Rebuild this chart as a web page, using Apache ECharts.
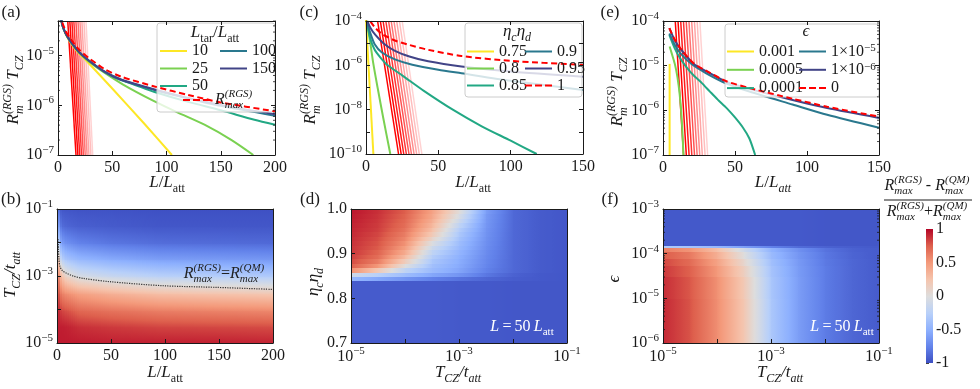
<!DOCTYPE html>
<html>
<head>
<meta charset="utf-8" />
<title>RGS vs QM</title>
<script src="https://cdn.jsdelivr.net/npm/echarts@6/dist/echarts.min.js"></script>
<style>
html, body {margin:0; padding:0; background:#fff;}
#main {width:980px; height:389px;}
</style>
</head>
<body>
<div id="main"></div>
<script>
var SERIF = 'Liberation Serif';
var INK = '#1a1a1a';

// ---- panel (a): x = L/L_att, y = log10(R_m T_CZ), one curve per L_tar/L_att
var aX10 = [2, 4, 7, 10, 15, 20, 27, 50, 80, 105];
var aY10 = [-4.15, -4.38, -4.56, -4.68, -4.84, -4.97, -5.12, -5.66, -6.38, -7.0];
var aX25 = [2, 4, 7, 10, 15, 20, 28, 40, 60, 89, 110, 135, 160, 180];
var aY25 = [-4.15, -4.38, -4.55, -4.67, -4.82, -4.95, -5.11, -5.3, -5.58, -5.92, -6.14, -6.39, -6.7, -7.0];
var aX50 = [2, 4, 7, 10, 15, 20, 28, 43, 58, 75, 89, 120, 150, 181, 200];
var aY50 = [-4.15, -4.38, -4.55, -4.66, -4.81, -4.94, -5.09, -5.32, -5.48, -5.62, -5.73, -5.93, -6.1, -6.29, -6.39];
var aX100 = [2, 4, 7, 10, 15, 20, 28, 43, 58, 89, 120, 150, 200];
var aY100 = [-4.15, -4.38, -4.55, -4.66, -4.81, -4.94, -5.09, -5.33, -5.49, -5.69, -5.86, -6.01, -6.21];
var aY150 = [-4.15, -4.38, -4.55, -4.66, -4.81, -4.94, -5.09, -5.32, -5.48, -5.68, -5.85, -5.99, -6.18];
var aXmax = [4, 7, 10, 15, 20, 28, 43, 58, 89, 120, 150, 200];
var aYmax = [-4.33, -4.5, -4.61, -4.76, -4.89, -5.04, -5.27, -5.42, -5.62, -5.79, -5.94, -6.12];
var aFanTop = [9, 10.9, 12.8, 14.6, 16.5, 18.4, 20.2, 22, 23.9, 25.8];
var aFanBot = [16.6, 18.3, 20, 21.7, 23.4, 25.1, 26.8, 28.5, 30.3, 32];
var aFanY = [-4.3, -7];

// ---- panel (c): one curve per eta_c eta_d
var cX75 = [0, 5.1];
var cY75 = [-3.95, -10];
var cX80 = [0.5, 3, 5, 8, 12, 16.8];
var cY80 = [-4, -5.0, -5.9, -7.0, -8.4, -10];
var cX85 = [0.5, 3, 6, 10, 15, 25, 40, 60, 80, 100, 118];
var cY85 = [-4, -4.8, -5.3, -5.65, -6.0, -6.45, -7.15, -8.0, -8.75, -9.4, -10];
var cX90 = [0.5, 3, 6, 11, 20, 32, 50, 66, 100, 150];
var cY90 = [-4, -4.55, -5.05, -5.42, -5.73, -5.97, -6.2, -6.36, -6.7, -7.11];
var cX95 = [1, 3, 6.5, 12, 20, 30, 43, 66, 100, 150];
var cY95 = [-4, -4.3, -4.63, -5.0, -5.35, -5.6, -5.82, -6.05, -6.28, -6.51];
var cX1 = [3, 6, 11, 20, 30, 43, 66, 100, 150];
var cY1 = [-4.02, -4.28, -4.58, -4.88, -5.08, -5.3, -5.58, -5.8, -5.98];
var cFanTop = [8, 9.9, 11.8, 13.7, 15.6, 17.4, 19.3, 21.2, 23.1, 25];
var cFanBot = [22.5, 24.3, 26.1, 27.9, 29.7, 31.4, 33.2, 35, 36.8, 38.6];
var cFanY = [-4, -10];

// ---- panel (e): one curve per epsilon
var eX001 = [4.6, 4.6];
var eY001 = [-4.96, -7.2];
var eX0005 = [4.6, 6, 8.2, 10, 11.6, 13, 14.2];
var eY0005 = [-4.57, -4.72, -4.96, -5.25, -5.65, -6.2, -7.0];
var eX0001 = [4.4, 8, 11.8, 16, 21, 27, 32.6, 38, 44.2, 50, 55.8, 60, 64];
var eY0001 = [-4.31, -4.6, -4.83, -5.02, -5.21, -5.39, -5.58, -5.76, -5.95, -6.16, -6.4, -6.63, -7.0];
var eX1e5 = [4.4, 8, 12, 20, 30, 44, 60, 90, 114, 150];
var eY1e5 = [-4.28, -4.52, -4.72, -4.97, -5.17, -5.4, -5.58, -5.87, -6.1, -6.39];
var eXb = [4.4, 8, 12, 21, 32.6, 44, 60, 90, 114, 150];
var eY1e6 = [-4.16, -4.42, -4.62, -4.95, -5.17, -5.36, -5.52, -5.77, -5.95, -6.17];
var eY0 = [-4.16, -4.41, -4.61, -4.94, -5.16, -5.35, -5.5, -5.74, -5.92, -6.14];
var eFanTop = [8.5, 10.4, 12.3, 14.2, 16.1, 18, 19.9, 21.8, 23.7, 25.6];
var eFanBot = [14.3, 16.2, 18.1, 20, 21.9, 23.7, 25.5, 27.3, 29.2, 31];
var eFanY = [-4, -7];
var fanAlpha = [1, 1, 0.9, 0.8, 0.68, 0.55, 0.45, 0.35, 0.26, 0.18];

// ---- panel (b): node columns in L/L_att, node rows log10(T_CZ/t_att)
var bX = [0, 0.9, 1.2, 2.5, 4.5, 9, 20, 50, 95, 145, 200];
var bYe = [-5, -4.5, -4, -3.5, -3, -2.5, -2, -1.5, -1];
var bV = [
  [0.93, 0.9, 0.8, 0.6, 0.3, 0.05, 0, -0.02, -0.02],
  [0.93, 0.9, 0.8, 0.6, 0.3, 0.05, 0, -0.02, -0.02],
  [0.95, 0.94, 0.92, 0.86, 0.68, 0.42, -0.08, -0.47, -0.76],
  [0.94, 0.93, 0.86, 0.68, 0.42, -0.08, -0.47, -0.76, -0.92],
  [0.94, 0.93, 0.82, 0.6, 0.25, -0.25, -0.6, -0.85, -0.95],
  [0.94, 0.92, 0.79, 0.54, 0.1, -0.35, -0.67, -0.88, -0.96],
  [0.94, 0.88, 0.71, 0.45, -0.04, -0.44, -0.74, -0.91, -0.97],
  [0.93, 0.85, 0.66, 0.36, -0.14, -0.52, -0.8, -0.93, -0.97],
  [0.93, 0.82, 0.61, 0.27, -0.23, -0.59, -0.84, -0.95, -0.98],
  [0.93, 0.81, 0.59, 0.24, -0.26, -0.61, -0.85, -0.95, -0.98],
  [0.92, 0.8, 0.57, 0.21, -0.29, -0.63, -0.86, -0.95, -0.98]
];
// contour R_max(RGS) = R_max(QM)
var bCX = [1.0, 1.3, 1.8, 2.8, 5, 9, 15, 24, 49, 98, 148, 200];
var bCY = [-1.9, -2.2, -2.5, -2.72, -2.84, -2.92, -3.0, -3.07, -3.17, -3.29, -3.34, -3.4];

// ---- panel (d): rows in eta_c eta_d, columns log10(T_CZ/t_att)
var dXe = [-5, -4.5, -4, -3.5, -3, -2.5, -2, -1.5, -1];
var dY = [0.7, 0.84, 0.85, 0.86, 0.87, 0.88, 0.89, 0.9, 0.91, 0.92, 0.93, 0.94, 0.95, 0.96, 0.97, 0.98, 0.99, 1.0];
var dV = [
  [-0.93, -0.93, -0.93, -0.93, -0.94, -0.94, -0.95, -0.95, -0.95],
  [-0.45, -0.55, -0.65, -0.75, -0.82, -0.88, -0.92, -0.94, -0.95],
  [-0.1, -0.25, -0.4, -0.55, -0.65, -0.8, -0.9, -0.94, -0.95],
  [0.55, 0.2, -0.2, -0.42, -0.56, -0.75, -0.87, -0.93, -0.95],
  [0.75, 0.5, 0.0, -0.38, -0.53, -0.73, -0.87, -0.93, -0.95],
  [0.81, 0.62, 0.17, -0.33, -0.51, -0.72, -0.87, -0.93, -0.95],
  [0.84, 0.69, 0.3, -0.27, -0.49, -0.71, -0.87, -0.93, -0.95],
  [0.86, 0.73, 0.4, -0.2, -0.46, -0.7, -0.87, -0.93, -0.95],
  [0.87, 0.76, 0.47, -0.12, -0.43, -0.69, -0.87, -0.93, -0.95],
  [0.88, 0.78, 0.53, -0.02, -0.4, -0.68, -0.87, -0.93, -0.95],
  [0.89, 0.8, 0.58, 0.1, -0.36, -0.67, -0.87, -0.93, -0.95],
  [0.9, 0.82, 0.62, 0.2, -0.32, -0.66, -0.87, -0.93, -0.95],
  [0.91, 0.84, 0.66, 0.27, -0.27, -0.65, -0.87, -0.93, -0.95],
  [0.92, 0.85, 0.69, 0.33, -0.2, -0.64, -0.87, -0.93, -0.95],
  [0.93, 0.86, 0.71, 0.38, -0.12, -0.63, -0.87, -0.93, -0.95],
  [0.94, 0.87, 0.73, 0.42, -0.05, -0.62, -0.87, -0.93, -0.95],
  [0.95, 0.88, 0.75, 0.45, 0.02, -0.6, -0.87, -0.93, -0.95]
];

// ---- panel (f): rows log10(epsilon), columns log10(T_CZ/t_att)
var fXe = [-5, -4.5, -4, -3.5, -3, -2.5, -2, -1.5, -1];
var fYe = [-6, -5.5, -5, -4.5, -4.25, -4.1, -3.95, -3.86, -3.8, -3];
var fV = [
  [0.9, 0.78, 0.55, 0.22, -0.32, -0.6, -0.78, -0.88, -0.93],
  [0.9, 0.78, 0.55, 0.22, -0.32, -0.6, -0.78, -0.88, -0.93],
  [0.89, 0.77, 0.54, 0.2, -0.33, -0.6, -0.78, -0.88, -0.93],
  [0.86, 0.74, 0.5, 0.15, -0.35, -0.61, -0.78, -0.88, -0.93],
  [0.82, 0.7, 0.45, 0.08, -0.38, -0.62, -0.79, -0.88, -0.93],
  [0.76, 0.64, 0.38, 0.0, -0.42, -0.64, -0.8, -0.89, -0.93],
  [0.62, 0.52, 0.28, -0.1, -0.47, -0.67, -0.82, -0.9, -0.93],
  [-0.3, -0.35, -0.45, -0.6, -0.75, -0.85, -0.9, -0.92, -0.94],
  [-0.94, -0.94, -0.94, -0.94, -0.94, -0.94, -0.95, -0.95, -0.95]
];

// colour bar
var cbTicks = [-1, -0.5, 0, 0.5, 1];
// matplotlib-style minor tick multipliers on log axes
var minorMul = [2, 3, 4, 5, 6, 7, 8, 9];

// ---------------------------------------------------------------
// coolwarm colour map
var CW = [[59,76,192],[98,130,234],[141,176,254],[184,208,249],[221,221,221],
          [245,196,173],[244,154,123],[222,96,77],[180,4,38]];
function cmap(v) {
  var t = Math.max(0, Math.min(1, (v + 1) / 2)) * (CW.length - 1);
  var i = Math.min(CW.length - 2, Math.floor(t)), f = t - i;
  var c = CW[i].map(function (a, k) { return Math.round(a + (CW[i + 1][k] - a) * f); });
  return 'rgb(' + c.join(',') + ')';
}
function p10(e) { return Math.pow(10, e); }

function mathRich(fs, color, H) {
  H = H || Math.round(fs * 1.4);
  var s = Math.round(fs * 0.7);
  function st(size, lh, extra) {
    return Object.assign({fontFamily: SERIF, fontSize: size, lineHeight: lh, color: color, align: 'left'}, extra || {});
  }
  return {
    n: st(fs, H), i: st(fs, H, {fontStyle: 'italic'}),
    sp: st(s, s, {verticalAlign: 'top'}),
    spi: st(s, s, {verticalAlign: 'top', fontStyle: 'italic'}),
    sb: st(s, s, {verticalAlign: 'bottom'}),
    sbi: st(s, s, {verticalAlign: 'bottom', fontStyle: 'italic'}),
    zb: st(s, s, {verticalAlign: 'bottom', fontStyle: 'italic', width: 0})
  };
}
var tickRich = mathRich(16, INK, 21);

function logFmt(keep) {
  return function (v) {
    var e = Math.log10(v), r = Math.round(e);
    if (Math.abs(e - r) > 1e-6 || keep.indexOf(r) < 0) return '';
    return '{n|10}{sp|' + (r < 0 ? '\u2212' + (-r) : r) + '}';
  };
}

function mkAxis(gi, type, min, max, o) {
  var a = {
    type: type, gridIndex: gi, min: min, max: max, position: o.pos,
    axisLine: {show: true, onZero: false, lineStyle: {color: INK, width: 1}},
    axisTick: {show: o.ticks !== false, inside: true, length: 4, lineStyle: {color: INK, width: 1}},
    axisLabel: {show: !o.mirror, margin: o.margin || 6, fontFamily: SERIF, fontSize: 16, color: INK, rich: tickRich},
    splitLine: {show: false},
    z: 5
  };
  if (o.fmt) a.axisLabel.formatter = o.fmt;
  if (type === 'log') a.logBase = 10;
  if (o.interval) a.interval = o.interval;
  return a;
}

var grids = [
  {left: 58, top: 21, width: 217, height: 134},   // a
  {left: 366, top: 21, width: 217, height: 133},  // c
  {left: 663, top: 21, width: 216, height: 134},  // e
  {left: 57, top: 209, width: 216, height: 134},  // b
  {left: 351, top: 209, width: 216, height: 134}, // d
  {left: 663, top: 209, width: 216, height: 134}, // f
  {left: 926, top: 229, width: 7, height: 134}    // colour bar
];
// [x type, min, max, interval, fmt] and the same for y
var axSpec = [
  [['value', 0, 200, 50, null], ['log', 1e-7, p10(-4.3), 0, logFmt([-5, -6, -7])], true],
  [['value', 0, 150, 50, null], ['log', 1e-10, 1e-4, 0, logFmt([-4, -6, -8, -10])], true],
  [['value', 0, 150, 50, null], ['log', 1e-7, 1e-4, 0, logFmt([-4, -5, -6, -7])], true],
  [['value', 0, 200, 50, null], ['log', 1e-5, 1e-1, 0, logFmt([-1, -3, -5])], false],
  [['log', 1e-5, 1e-1, 0, logFmt([-5, -3, -1])], ['value', 0.7, 1.0, 0.1, function (v) { return v.toFixed(1); }], false],
  [['log', 1e-5, 1e-1, 0, logFmt([-5, -3, -1])], ['log', 1e-6, 1e-3, 0, logFmt([-3, -4, -5, -6])], false]
];
var xAxes = [], yAxes = [];
axSpec.forEach(function (s, gi) {
  var X = s[0], Y = s[1], mt = s[2];
  xAxes.push(mkAxis(gi, X[0], X[1], X[2], {pos: 'bottom', interval: X[3], fmt: X[4], margin: X[0] === 'log' ? 3 : 5}));
  xAxes.push(mkAxis(gi, X[0], X[1], X[2], {pos: 'top', interval: X[3], mirror: true, ticks: mt}));
  yAxes.push(mkAxis(gi, Y[0], Y[1], Y[2], {pos: 'left', interval: Y[3], fmt: Y[4], margin: 4}));
  yAxes.push(mkAxis(gi, Y[0], Y[1], Y[2], {pos: 'right', interval: Y[3], mirror: true, ticks: mt}));
});
xAxes.push({type: 'value', gridIndex: 6, min: 0, max: 1, show: false});
yAxes.push({
  type: 'value', gridIndex: 6, min: -1, max: 1, interval: 0.5, position: 'right',
  axisLine: {show: false}, splitLine: {show: false},
  axisTick: {show: true, length: 3, lineStyle: {color: '#444'}},
  axisLabel: {margin: 3, fontFamily: SERIF, fontSize: 16, color: INK, formatter: function (v) { return String(v); }}
});

var series = [];
function line(gi, name, xs, ys, color, o) {
  o = o || {};
  series.push({
    type: 'line', name: name, xAxisIndex: 2 * gi, yAxisIndex: 2 * gi,
    data: xs.map(function (x, k) { return [x, p10(ys[k])]; }),
    symbol: 'none', showSymbol: false, smooth: o.smooth == null ? 0.25 : o.smooth,
    lineStyle: {color: color, width: o.width || 2, type: o.type || 'solid', opacity: o.opacity == null ? 1 : o.opacity},
    itemStyle: {color: color}, z: o.z || 2, silent: true
  });
}
function fans(gi, tops, bots, ys) {
  tops.forEach(function (t, k) {
    line(gi, undefined, [t, bots[k]], ys, '#ff0000', {width: 1.5, opacity: fanAlpha[k], smooth: 0, z: 1});
  });
}
var V = ['#fde725', '#7ad151', '#22a884', '#2a788e', '#414487'];
var DASH = [6, 3.5];

// (a)
fans(0, aFanTop, aFanBot, aFanY);
line(0, '10', aX10, aY10, V[0]);
line(0, '25', aX25, aY25, V[1]);
line(0, '50', aX50, aY50, V[2]);
line(0, '100', aX100, aY100, V[3]);
line(0, '150', aX100, aY150, V[4]);
line(0, 'Rmax', aXmax, aYmax, '#ff0000', {type: DASH, z: 3});
// (c)
fans(1, cFanTop, cFanBot, cFanY);
line(1, '0.75', cX75, cY75, V[0], {smooth: 0});
line(1, '0.8', cX80, cY80, V[1]);
line(1, '0.85', cX85, cY85, V[2]);
line(1, '0.9', cX90, cY90, V[3]);
line(1, '0.95', cX95, cY95, V[4]);
line(1, '1', cX1, cY1, '#ff0000', {type: DASH, z: 3});
// (e)
fans(2, eFanTop, eFanBot, eFanY);
line(2, '0.001', eX001, eY001, V[0], {smooth: 0});
line(2, '0.0005', eX0005, eY0005, V[1]);
line(2, '0.0001', eX0001, eY0001, V[2]);
line(2, '1e-5', eX1e5, eY1e5, V[3]);
line(2, '1e-6', eXb, eY1e6, V[4]);
line(2, '0', eXb, eY0, '#ff0000', {type: DASH, z: 3});

// minor ticks on the log y axes of (a), (e), (f): short marks at both frame edges
function minorTicks(gi, decades, xMin, xMax, yMin, yMax) {
  var vals = [];
  decades.forEach(function (d) {
    minorMul.forEach(function (m) { var v = m * p10(d); if (v > yMin && v < yMax) vals.push([v]); });
  });
  series.push({
    type: 'custom', xAxisIndex: 2 * gi, yAxisIndex: 2 * gi, silent: true, z: 6, data: vals,
    encode: {y: 0},
    renderItem: function (params, api) {
      var pl = api.coord([xMin, api.value(0)]), pr = api.coord([xMax, api.value(0)]);
      return {type: 'group', children: [
        {type: 'line', shape: {x1: pl[0], y1: pl[1], x2: pl[0] + 2, y2: pl[1]}, style: {stroke: INK, lineWidth: 0.8}},
        {type: 'line', shape: {x1: pr[0] - 2, y1: pr[1], x2: pr[0], y2: pr[1]}, style: {stroke: INK, lineWidth: 0.8}}
      ]};
    }
  });
}
minorTicks(0, [-7, -6, -5], 0, 200, 1e-7, p10(-4.3));
minorTicks(2, [-7, -6, -5], 0, 150, 1e-7, 1e-4);
minorTicks(5, [-6, -5, -4], p10(-5), 0.1, 1e-6, 1e-3);

// heat maps: each cell [x0, x1, y0, y1, v(x0,y0), v(x1,y0), v(x0,y1), v(x1,y1)],
// shaded between its corner values
function grad(a, b, x0, y0, x1, y1) {
  var stops = [];
  for (var k = 0; k <= 8; k++) stops.push({offset: k / 8, color: cmap(a + (b - a) * k / 8)});
  return new echarts.graphic.LinearGradient(x0, y0, x1, y1, stops);
}
function cellRender(params, api) {
  var p0 = api.coord([api.value(0), api.value(2)]);
  var p1 = api.coord([api.value(1), api.value(3)]);
  var v00 = api.value(4), v10 = api.value(5), v01 = api.value(6), v11 = api.value(7);
  var xa = Math.round(Math.min(p0[0], p1[0])), xb = Math.round(Math.max(p0[0], p1[0]));
  var ya = Math.round(Math.min(p0[1], p1[1])), yb = Math.round(Math.max(p0[1], p1[1]));
  var children = [];
  if (v00 === v01 && v10 === v11) {
    children.push({type: 'rect', shape: {x: xa, y: ya, width: xb - xa + 1, height: yb - ya + 1},
                   style: {fill: grad(v00, v10, 0, 0, 1, 0)}});
  } else {
    var n = Math.max(1, Math.ceil((xb - xa) / 2));
    for (var s = 0; s < n; s++) {
      var s0 = xa + Math.round((xb - xa) * s / n), s1 = xa + Math.round((xb - xa) * (s + 1) / n);
      var t = (s + 0.5) / n;
      var vb = v00 + (v10 - v00) * t, vt = v01 + (v11 - v01) * t;
      children.push({type: 'rect', shape: {x: s0, y: ya, width: s1 - s0 + 1, height: yb - ya + 1},
                     style: {fill: grad(vb, vt, 0, 1, 0, 0)}});
    }
  }
  return {type: 'group', children: children};
}
function heat(gi, data) {
  series.push({
    type: 'custom', xAxisIndex: gi === 6 ? 12 : 2 * gi, yAxisIndex: gi === 6 ? 12 : 2 * gi,
    renderItem: cellRender, data: data, clip: true, silent: true, z: 1,
    encode: {x: [0, 1], y: [2, 3]}
  });
}
var bCells = [];
for (var c = 0; c < bX.length - 1; c++)
  for (var r = 0; r < bYe.length - 1; r++)
    bCells.push([bX[c], bX[c + 1], p10(bYe[r]), p10(bYe[r + 1]),
                 bV[c][r], bV[c + 1][r], bV[c][r + 1], bV[c + 1][r + 1]]);
heat(3, bCells);
var dCells = [];
for (var r2 = 0; r2 < dY.length - 1; r2++)
  for (var k2 = 0; k2 < dXe.length - 1; k2++)
    dCells.push([p10(dXe[k2]), p10(dXe[k2 + 1]), dY[r2], dY[r2 + 1],
                 dV[r2][k2], dV[r2][k2 + 1], dV[r2][k2], dV[r2][k2 + 1]]);
heat(4, dCells);
var fCells = [];
for (var r3 = 0; r3 < fYe.length - 1; r3++)
  for (var k3 = 0; k3 < fXe.length - 1; k3++)
    fCells.push([p10(fXe[k3]), p10(fXe[k3 + 1]), p10(fYe[r3]), p10(fYe[r3 + 1]),
                 fV[r3][k3], fV[r3][k3 + 1], fV[r3][k3], fV[r3][k3 + 1]]);
heat(5, fCells);
var cbLo = cbTicks[0], cbHi = cbTicks[cbTicks.length - 1];
heat(6, [[0, 1, cbLo, cbHi, cbLo, cbLo, cbHi, cbHi + 1e-9]]);
line(3, 'contour', bCX, bCY, '#333333', {type: 'dotted', width: 1.2, z: 3, smooth: 0.3});

// legends
var legendLabel = {
  'Rmax': '{i|R}{zb|max}{spi|(RGS)}',
  '1e-5': '1\u00d710{sp|\u22125}',
  '1e-6': '1\u00d710{sp|\u22126}'
};
var DASH_ICON = 'path://M0 0H7V2H0Z M10 0H17V2H10Z M20 0H27V2H20Z';
function legendCol(names, left, top, ih, gap) {
  return {
    data: names.map(function (n) {
      return (n === 'Rmax' || n === '1' || n === '0') ? {name: n, icon: DASH_ICON} : {name: n, icon: 'rect'};
    }),
    orient: 'vertical', left: left, top: top, padding: 0, symbolKeepAspect: false,
    itemWidth: 27, itemHeight: 2, itemGap: gap, selectedMode: false, z: 6,
    textStyle: {fontFamily: SERIF, fontSize: 16, color: INK, lineHeight: ih, rich: mathRich(16, INK, ih)},
    formatter: function (n) { return legendLabel[n] || n; }
  };
}
var legends = [
  legendCol(['10', '25', '50'], 160, 42.5, 17, 0.5),
  legendCol(['100', '150'], 220, 42.5, 17, 0.5),
  legendCol(['Rmax'], 183, 89, 22, 0),
  legendCol(['0.75', '0.8', '0.85'], 467, 43, 17, 0),
  legendCol(['0.9', '0.95', '1'], 525, 43, 17, 0),
  legendCol(['0.001', '0.0005', '0.0001'], 727, 43, 17, 1.3),
  legendCol(['1e-5', '1e-6', '0'], 799, 43, 17, 1.3)
];

// texts
function tex(x, y, text, fs, o) {
  o = o || {};
  var color = o.color || INK;
  return {
    type: 'text', x: x, y: y, rotation: o.rot || 0, z: 7, silent: true,
    style: {
      text: text, x: 0, y: 0, rich: mathRich(fs, color),
      fontFamily: SERIF, fontSize: fs, fill: color,
      align: 'center', verticalAlign: 'middle', textAlign: 'center', textVerticalAlign: 'middle'
    }
  };
}
function box(x, y, w, h) {
  return {type: 'rect', z: 3, silent: true, shape: {x: x, y: y, width: w, height: h, r: 3},
          style: {fill: 'rgba(255,255,255,0.8)', stroke: '#cccccc', lineWidth: 1}};
}
var RY = '{i|R}{zb|m}{spi|(RGS)}{n| }{i|T}{sbi|CZ}';
var RR = '{i|R}{zb|max}{spi|(RGS)}';
var RQ = '{i|R}{zb|max}{spi|(QM)}';
var graphics = [
  box(157, 23, 118, 89), box(465, 23, 117, 74), box(725, 24, 154, 73),
  tex(215, 33, '{i|L}{sb|tar}{n|/}{i|L}{sb|att}', 17),
  tex(517, 32, '{i|\u03b7}{sbi|c}{i|\u03b7}{sbi|d}', 17),
  tex(806, 32, '{i|\u03f5}', 17),
  tex(11, 13, '(a)', 17), tex(309, 13, '(c)', 17), tex(610, 13, '(e)', 17),
  tex(11, 200, '(b)', 17), tex(310, 200, '(d)', 17), tex(610, 200, '(f)', 17),
  tex(14, 90, RY, 17, {rot: Math.PI / 2}),
  tex(311, 90, RY, 17, {rot: Math.PI / 2}),
  tex(618, 92, RY, 17, {rot: Math.PI / 2}),
  tex(11, 275, '{i|T}{sbi|CZ}{i|/t}{sbi|att}', 17, {rot: Math.PI / 2}),
  tex(314, 282, '{i|\u03b7}{sbi|c}{i|\u03b7}{sbi|d}', 17, {rot: Math.PI / 2}),
  tex(615, 279, '{i|\u03f5}', 17, {rot: Math.PI / 2}),
  tex(167, 183, '{i|L}{n|/}{i|L}{sb|att}', 17),
  tex(473, 183, '{i|L}{n|/}{i|L}{sb|att}', 17),
  tex(773, 183, '{i|L}{n|/}{i|L}{sbi|att}', 17),
  tex(165, 373, '{i|L}{n|/}{i|L}{sb|att}', 17),
  tex(458, 373, '{i|T}{sbi|CZ}{i|/t}{sbi|att}', 17),
  tex(780, 373, '{i|T}{sbi|CZ}{i|/t}{sbi|att}', 17),
  tex(224, 274, RR + '{n|=}' + RQ, 16, {color: '#222222'}),
  tex(522, 327, '{i|L}{n|\u2009=\u200950\u2009}{i|L}{sb|att}', 16, {color: '#ffffff'}),
  tex(842, 327, '{i|L}{n|\u2009=\u200950\u2009}{i|L}{sb|att}', 16, {color: '#ffffff'}),
  tex(927, 186, RR + '{n| - }' + RQ, 16),
  {type: 'line', z: 7, silent: true, shape: {x1: 884, y1: 200, x2: 972, y2: 200}, style: {stroke: INK, lineWidth: 1}},
  tex(927, 212, RR + '{n|+}' + RQ, 16)
];

var chart = echarts.init(document.getElementById('main'));
chart.setOption({
  animation: false,
  backgroundColor: '#ffffff',
  grid: grids,
  xAxis: xAxes,
  yAxis: yAxes,
  legend: legends,
  graphic: graphics,
  series: series
});
</script>
</body>
</html>
